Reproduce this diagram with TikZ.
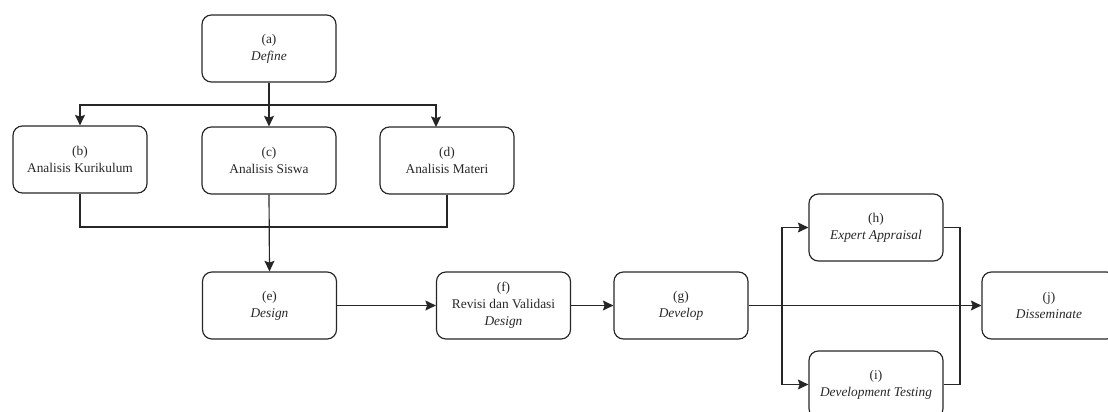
\documentclass[tikz,border=0pt]{standalone}
\usepackage{fontspec}
\setmainfont{Liberation Serif}
\usetikzlibrary{arrows.meta}
\begin{document}
\begin{tikzpicture}[x=0.03cm,y=-0.03cm,
  box/.style={draw=black!85, line width=1pt, rounded corners=8pt, minimum width=4.02cm, minimum height=2.01cm, inner sep=0pt, align=center, text=black!85, font=\fontsize{11.4}{14.5}\selectfont},
  conn/.style={draw=black!85, line width=1pt},
  arr/.style={conn, -{Stealth[length=9pt,width=8.5pt,inset=1.5pt]}}]
\clip (0,0) rectangle (1108,411);
\useasboundingbox (0,0) rectangle (1108,411);
\node[box] (a) at (269,48.5) {(a)\\\textit{Define}};
\node[box] (b) at (80,159.5) {(b)\\Analisis Kurikulum};
\node[box] (c) at (269,160.5) {(c)\\Analisis Siswa};
\node[box] (d) at (447,160.5) {(d)\\Analisis Materi};
\node[box] (e) at (269.5,305.5) {(e)\\\textit{Design}};
\node[box] (f) at (503.5,305.5) {(f)\\Revisi dan Validasi\\\textit{Design}};
\node[box] (g) at (681,305.5) {(g)\\\textit{Develop}};
\node[box] (h) at (876,227.5) {(h)\\\textit{Expert Appraisal}};
\node[box] (i) at (876,384.5) {(i)\\\textit{Development Testing}};
\node[box] (j) at (1049,305.5) {(j)\\\textit{Disseminate}};
\coordinate (s1) at (269,105);
\coordinate (dtop) at (436,127);
\coordinate (m) at (269,227);
\coordinate (br) at (782,305.5);
\coordinate (mr) at (960,305.5);
\draw[arr] (a.south) -- (c.north);
\draw[arr] (s1) -| (b.north);
\draw[arr] (s1) -| (dtop);
\draw[conn] (b.south) |- (m) -| (d.south);
\draw[arr] (c.south) -- (e.north);
\draw[arr] (e) -- (f);
\draw[arr] (f) -- (g);
\draw[arr] (g) -- (j);
\draw[arr] (br) |- (h.west);
\draw[arr] (br) |- (i.west);
\draw[conn] (h.east) -| (mr) |- (i.east);
\end{tikzpicture}
\end{document}
